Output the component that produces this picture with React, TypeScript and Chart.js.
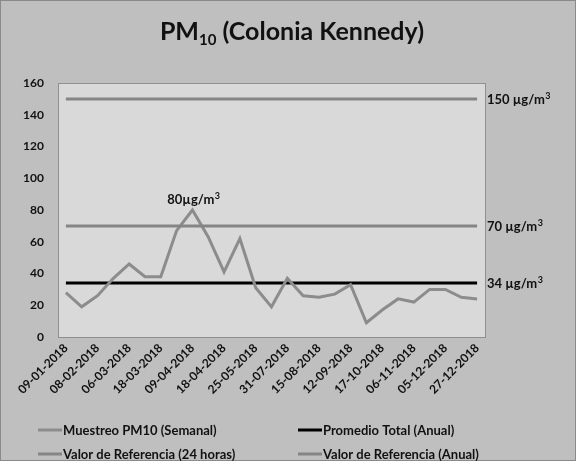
import React, { useEffect, useRef } from "react";
import { Chart, registerables } from "chart.js";

Chart.register(...registerables);

const tickLabels = [
  "09-01-2018", "08-02-2018", "06-03-2018", "18-03-2018", "09-04-2018",
  "18-04-2018", "25-05-2018", "31-07-2018", "15-08-2018", "12-09-2018",
  "17-10-2018", "06-11-2018", "05-12-2018", "27-12-2018",
];
const pm10Weekly = [28, 19, 26, 37, 46, 38, 38, 67, 80, 63, 41, 62, 31, 19, 37, 26, 25, 27, 33, 9, 17, 24, 22, 30, 30, 25, 24];
const annualAverage = 34;
const reference24h = 150;
const referenceAnnual = 70;
const peakLabel = "80µg/m³";
const seriesNames = [
  "Muestreo PM10 (Semanal)",
  "Promedio Total (Anual)",
  "Valor de Referencia (24 horas)",
  "Valor de Referencia (Anual)",
];

const FONT = "Lato, 'Open Sans', sans-serif";
const OUTER_BG = "#bfbfbf";
const PLOT_BG = "#d9d9d9";
const SERIES_GRAY = "#8c8c8c";
const REF_GRAY = "#858585";

export default function App() {
  const ref = useRef<HTMLCanvasElement | null>(null);

  useEffect(() => {
    document.body.style.margin = "0";
    const canvas = ref.current;
    if (!canvas) return;

    const categories = pm10Weekly.map((_, i) => (i % 2 === 0 ? tickLabels[i / 2] ?? "" : ""));
    const constant = (v: number) => pm10Weekly.map(() => v);

    const decor = {
      id: "decor",
      beforeDraw(chart: any) {
        const { ctx, chartArea: a, width, height } = chart;
        ctx.save();
        ctx.fillStyle = OUTER_BG;
        ctx.fillRect(0, 0, width, height);
        ctx.strokeStyle = "#8a8a8a";
        ctx.lineWidth = 1;
        ctx.strokeRect(0.5, 0.5, width - 1, height - 1);
        ctx.fillStyle = PLOT_BG;
        ctx.fillRect(a.left, a.top, a.right - a.left, a.bottom - a.top);
        ctx.restore();
      },
      afterDraw(chart: any) {
        const { ctx, chartArea: a, scales } = chart;
        const y = scales.y;
        const x = scales.x;
        ctx.save();
        ctx.strokeStyle = "#8f8f8f";
        ctx.lineWidth = 1;
        ctx.strokeRect(Math.round(a.left) + 0.5, Math.round(a.top) + 0.5, Math.round(a.right - a.left), Math.round(a.bottom - a.top));

        // title with subscript
        ctx.fillStyle = "#111";
        ctx.textBaseline = "alphabetic";
        ctx.textAlign = "left";
        const big = `bold 25px ${FONT}`;
        const small = `bold 15px ${FONT}`;
        ctx.font = big;
        const w1 = ctx.measureText("PM").width;
        const w3 = ctx.measureText(" (Colonia Kennedy)").width;
        ctx.font = small;
        const w2 = ctx.measureText("10").width;
        const total = w1 + w2 + w3;
        let tx = 292 - total / 2;
        const ty = 40;
        ctx.font = big;
        ctx.fillText("PM", tx, ty);
        tx += w1;
        ctx.font = small;
        ctx.fillText("10", tx, ty + 5);
        tx += w2;
        ctx.font = big;
        ctx.fillText(" (Colonia Kennedy)", tx, ty);

        // right-side labels
        ctx.textBaseline = "middle";
        ctx.textAlign = "left";
        const rightLabel = (v: number) => {
          const yy = y.getPixelForValue(v);
          const base = `${v} µg/m`;
          ctx.font = `bold 13px ${FONT}`;
          ctx.fillText(base, a.right + 2, yy + 1);
          const bw = ctx.measureText(base).width;
          ctx.font = `bold 9px ${FONT}`;
          ctx.fillText("3", a.right + 2 + bw + 0.5, yy - 3);
        };
        rightLabel(reference24h);
        rightLabel(referenceAnnual);
        rightLabel(annualAverage);

        // peak annotation
        const peakIdx = pm10Weekly.indexOf(Math.max(...pm10Weekly));
        const px = x.getPixelForValue(peakIdx);
        const py = y.getPixelForValue(pm10Weekly[peakIdx]);
        const main = peakLabel.slice(0, -1);
        ctx.font = `bold 13px ${FONT}`;
        const mw = ctx.measureText(main).width;
        ctx.font = `bold 9px ${FONT}`;
        const sw = ctx.measureText("3").width;
        const sx = px + 1 - (mw + sw) / 2;
        ctx.font = `bold 13px ${FONT}`;
        ctx.fillText(main, sx, py - 10);
        ctx.font = `bold 9px ${FONT}`;
        ctx.fillText("3", sx + mw + 0.5, py - 14);

        // legend
        const items = [
          { t: seriesNames[0], c: SERIES_GRAY, x: 38, y: 430 },
          { t: seriesNames[1], c: "#000000", x: 298, y: 430 },
          { t: seriesNames[2], c: REF_GRAY, x: 38, y: 454 },
          { t: seriesNames[3], c: REF_GRAY, x: 298, y: 454 },
        ];
        ctx.font = `bold 13px ${FONT}`;
        ctx.textBaseline = "middle";
        for (const it of items) {
          ctx.strokeStyle = it.c;
          ctx.lineWidth = 3;
          ctx.beginPath();
          ctx.moveTo(it.x, it.y);
          ctx.lineTo(it.x + 24, it.y);
          ctx.stroke();
          ctx.fillStyle = "#111";
          ctx.fillText(it.t, it.x + 25, it.y + 1);
        }
        ctx.restore();
      },
    };

    const chart = new Chart(canvas, {
      type: "line",
      data: {
        labels: categories,
        datasets: [
          { label: seriesNames[2], data: constant(reference24h), borderColor: REF_GRAY, borderWidth: 3, pointRadius: 0, tension: 0 },
          { label: seriesNames[3], data: constant(referenceAnnual), borderColor: REF_GRAY, borderWidth: 3, pointRadius: 0, tension: 0 },
          { label: seriesNames[0], data: pm10Weekly, borderColor: SERIES_GRAY, borderWidth: 3, pointRadius: 0, tension: 0 },
          { label: seriesNames[1], data: constant(annualAverage), borderColor: "#000000", borderWidth: 3, pointRadius: 0, tension: 0 },
        ],
      },
      plugins: [decor],
      options: {
        responsive: false,
        animation: false,
        layout: { padding: { top: 83, right: 91, left: 0, bottom: 0 } },
        plugins: { legend: { display: false }, title: { display: false }, tooltip: { enabled: false } },
        scales: {
          x: {
            offset: true,
            grid: { display: false, drawTicks: false },
            border: { display: false },
            ticks: {
              autoSkip: false,
              maxRotation: 45,
              minRotation: 45,
              padding: 4,
              color: "#111",
              font: { family: FONT, size: 12, weight: "bold" },
            },
            afterFit(scale: any) {
              scale.height = 124;
            },
          },
          y: {
            min: 0,
            max: 160,
            grid: { display: false, drawTicks: false },
            border: { display: false },
            ticks: {
              stepSize: 20,
              padding: 14,
              color: "#111",
              font: { family: FONT, size: 12, weight: "bold" },
            },
            afterFit(scale: any) {
              scale.width = 58;
            },
          },
        },
      },
    });
    return () => chart.destroy();
  }, []);

  return <canvas ref={ref} width={576} height={461} style={{ display: "block" }} />;
}
